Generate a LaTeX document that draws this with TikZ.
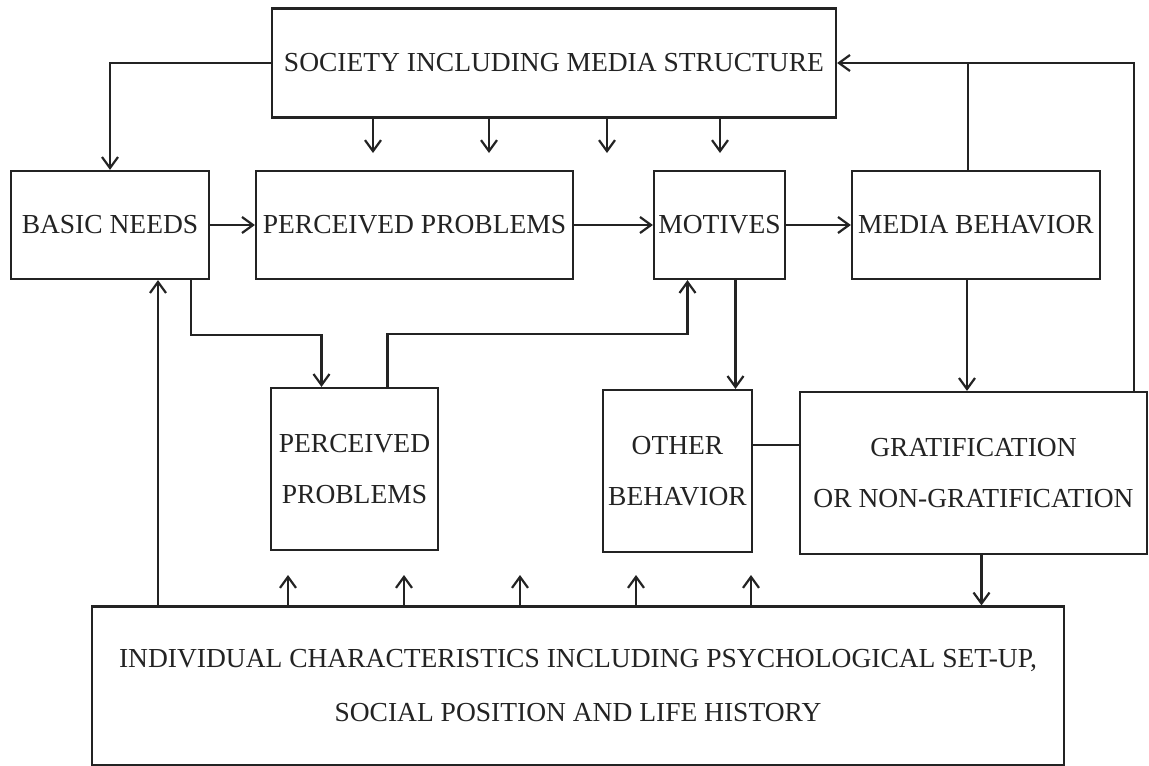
\documentclass[tikz,border=0pt]{standalone}
\usepackage{fontspec}
\setmainfont{Liberation Serif}
\usetikzlibrary{arrows.meta}
\definecolor{inchiostro}{RGB}{35,35,35}

\begin{document}
\begin{tikzpicture}[x=1pt,y=-1pt,line width=2.2pt,draw=inchiostro,
    >={Straight Barb[length=11pt,width=16pt]},
    blocco/.style={draw,rectangle,inner sep=0pt,align=center,
        text=inchiostro,font=\fontsize{27.5}{51}\selectfont}]
    \useasboundingbox[fill=white] (0,0) rectangle (1149,766);
    % Blocco superiore
    \node[blocco,minimum width=564pt,minimum height=109pt] (society) at (554,63) {SOCIETY INCLUDING MEDIA STRUCTURE};
    % Riga centrale
    \node[blocco,minimum width=198pt,minimum height=108pt] (basic) at (110,225) {BASIC NEEDS};
    \node[blocco,minimum width=317pt,minimum height=108pt] (perc) at (414.5,225) {PERCEIVED PROBLEMS};
    \node[blocco,minimum width=131pt,minimum height=108pt] (motives) at (719.5,225) {MOTIVES};
    \node[blocco,minimum width=248pt,minimum height=108pt] (media) at (976,225) {MEDIA BEHAVIOR};
    % Riga inferiore
    \node[blocco,minimum width=167pt,minimum height=162pt] (perc2) at (354.5,469) {PERCEIVED\\PROBLEMS};
    \node[blocco,minimum width=149pt,minimum height=162pt] (other) at (677.5,471) {OTHER\\BEHAVIOR};
    \node[blocco,minimum width=347pt,minimum height=162pt] (grat) at (973.5,473) {GRATIFICATION\\OR NON-GRATIFICATION};
    % Caratteristiche individuali
    \node[blocco,minimum width=972pt,minimum height=159pt,font=\fontsize{27.5}{54}\selectfont] (indiv) at (578,686) {INDIVIDUAL CHARACTERISTICS INCLUDING PSYCHOLOGICAL SET-UP,\\SOCIAL POSITION AND LIFE HISTORY};
    % Frecce dalla societa
    \draw[->] (society.west) -| (basic.north);
    \foreach \x in {373,489,607,720}
        \draw[->] (\x,0 |- society.south) -- (\x,153);
    % Catena orizzontale
    \draw[->] (basic.east) -- (perc.west);
    \draw[->] (perc.east) -- (motives.west);
    \draw[->] (motives.east) -- (media.west);
    % Ritorno verso la societa
    \draw ([xshift=-8pt]media.north) -- ([xshift=-8pt]media.north |- society.east);
    \draw[->] (grat.north -| 1134,0) |- (society.east);
    % Collegamenti verso il basso
    \draw[->] ([xshift=81pt]basic.south) -- ++(0,55) -| ([xshift=-33pt]perc2.north);
    \draw[->] ([xshift=33pt]perc2.north) -- ++(0,-53) -| ([xshift=-32pt]motives.south);
    \draw[->] ([xshift=16pt]motives.south) -- ([xshift=16pt]motives.south |- other.north);
    \draw[->] ([xshift=-9pt]media.south) -- ([xshift=-9pt]media.south |- grat.north);
    \draw ([yshift=26pt]other.east) -- ([yshift=26pt]other.east -| grat.west);
    \draw[->] ([xshift=8pt]grat.south) -- ([xshift=8pt]grat.south |- indiv.north);
    % Frecce dalle caratteristiche individuali
    \draw[->] ([xshift=48pt]basic.south |- indiv.north) -- ([xshift=48pt]basic.south);
    \foreach \x in {288,404,520,636,751}
        \draw[->] (\x,0 |- indiv.north) -- (\x,575);
\end{tikzpicture}
\end{document}
